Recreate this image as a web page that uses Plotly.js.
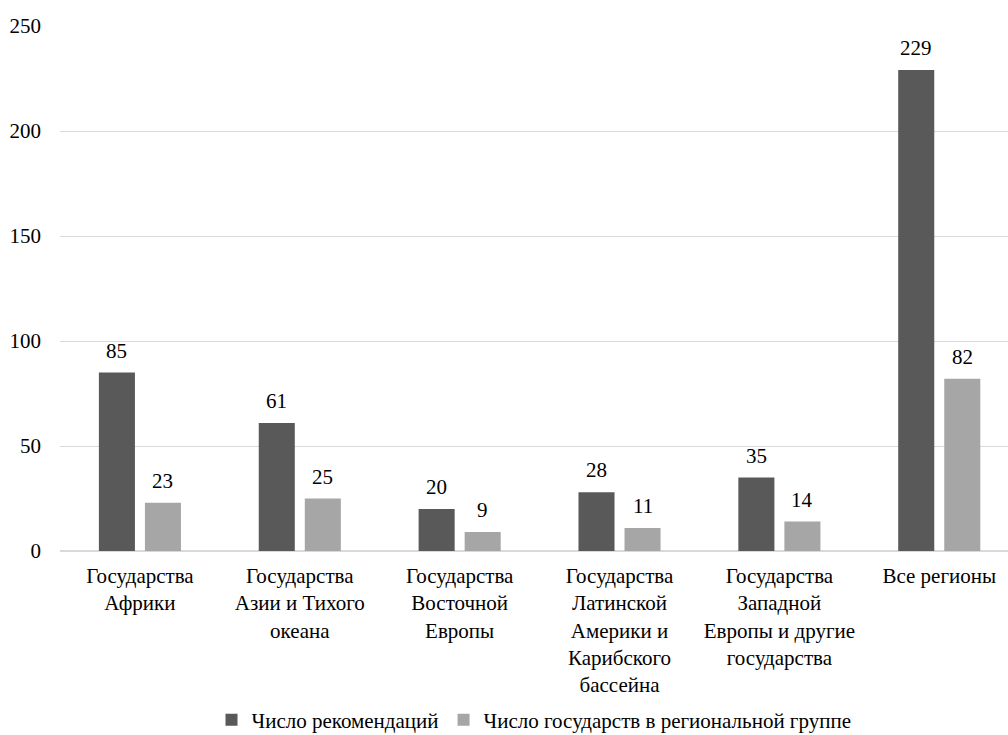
<!DOCTYPE html>
<html>
<head>
<meta charset="utf-8">
<script src="https://cdn.plot.ly/plotly-3.0.1.min.js"></script>
<style>
html,body{margin:0;padding:0;background:#fff;font-family:"Times New Roman"}
</style>
</head>
<body>
<div id="chart" style="width:1008px;height:735px;font-family:'Times New Roman'"></div>
<script>
const categories = [
  "Государства<br>Африки",
  "Государства<br>Азии и Тихого<br>океана",
  "Государства<br>Восточной<br>Европы",
  "Государства<br>Латинской<br>Америки и<br>Карибского<br>бассейна",
  "Государства<br>Западной<br>Европы и другие<br>государства",
  "Все регионы"
];
const seriesNames = ["Число рекомендаций", "Число государств в региональной группе"];
const recommendations = [85, 61, 20, 28, 35, 229];
const states = [23, 25, 9, 11, 14, 82];
const yTicks = [0, 50, 100, 150, 200, 250];

const FAMILY = "Times New Roman";
const colors = ["#595959", "#a6a6a6"];
const seriesValues = [recommendations, states];

const traces = seriesValues.map((vals, i) => ({
  type: "bar",
  name: seriesNames[i],
  x: categories,
  y: vals,
  marker: {color: colors[i]},
  hoverinfo: "x+y"
}));

const annotations = [];
seriesValues.forEach((vals, i) => {
  vals.forEach((v, j) => {
    annotations.push({
      x: categories[j], y: v, xref: "x", yref: "y",
      text: String(v), showarrow: false,
      xshift: i === 0 ? -23 : 23,
      yanchor: "middle", yshift: 22,
      font: {family: FAMILY, size: 21, color: "#000"}
    });
  });
});

const layout = {
  width: 1008, height: 735,
  margin: {l: 60, r: 0, t: 26, b: 184, autoexpand: false},
  paper_bgcolor: "#fff", plot_bgcolor: "#fff",
  barmode: "group", bargap: 0.424, bargroupgap: 0.217,
  font: {family: FAMILY, size: 21, color: "#000"},
  showlegend: true,
  legend: {orientation: "h", x: 0.5, xanchor: "center", y: -0.322, yanchor: "middle",
           font: {family: FAMILY, size: 21, color: "#000"}, itemwidth: 30, tracegroupgap: 0},
  xaxis: {
    type: "category", range: [-0.5, 5.43], showgrid: false, showline: false,
    zeroline: false, ticks: "", tickfont: {family: FAMILY, size: 21, color: "#000"},
    ticklabelstandoff: 10, automargin: false
  },
  yaxis: {
    range: [0, 250], tickvals: yTicks, ticktext: yTicks.map(String),
    showgrid: true, gridcolor: "#d9d9d9", gridwidth: 1.3,
    zeroline: true, zerolinecolor: "#d9d9d9", zerolinewidth: 1.6,
    showline: false, ticks: "", tickfont: {family: FAMILY, size: 21, color: "#000"},
    ticklabelstandoff: 18, automargin: false
  },
  annotations: annotations
};

Plotly.newPlot("chart", traces, layout, {displayModeBar: false});
</script>
</body>
</html>
